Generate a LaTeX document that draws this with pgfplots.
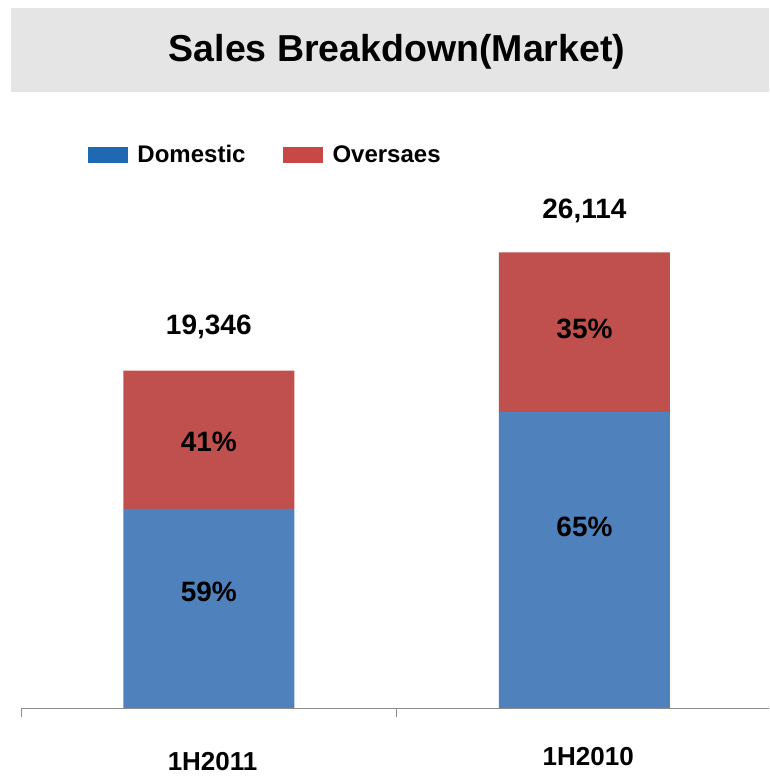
\documentclass[border=0pt]{standalone}
\usepackage{fontspec}
\setmainfont{Liberation Sans}
\usepackage{pgfplots}
\pgfplotsset{compat=1.18}

\definecolor{dombar}{HTML}{4F81BD}
\definecolor{ovsbar}{HTML}{C0504D}
\definecolor{domleg}{HTML}{1F69B3}
\definecolor{ovsleg}{HTML}{C84846}
\definecolor{band}{HTML}{E5E5E5}
\definecolor{axisgray}{HTML}{8C8C8C}

\tikzset{vlab/.style={font=\fontsize{28}{30}\selectfont\bfseries},
         clab/.style={font=\fontsize{26}{28}\selectfont\bfseries, inner sep=0pt}}

\begin{document}
\begin{tikzpicture}
\path (0pt,0pt) rectangle (769pt,776pt);
% title band
\fill[band] (11pt,684pt) rectangle (769pt,768pt);
\node[font=\fontsize{37.5}{40}\selectfont\bfseries] at (397pt,724pt) {Sales Breakdown(Market)};

\begin{axis}[
    at={(21pt,68pt)}, anchor=south west,
    scale only axis, width=748pt, height=610.5pt,
    ymin=0, ymax=35000,
    xmin=-0.5, xmax=1.4913,
    ybar stacked, bar width=171pt,
    axis x line*=bottom, axis y line=none,
    x axis line style={axisgray, line width=0.8pt},
    xtick={-0.5,0.5}, xticklabels={},
    tick align=outside, major tick length=9pt,
    xtick style={axisgray, line width=0.6pt},
    clip=false,
    legend columns=2,
    legend style={draw=none, fill=none, inner sep=0pt,
        at={(axis cs:-0.3235,31709)}, anchor=west,
        font=\fontsize{24}{26}\selectfont\bfseries,
        nodes={inner sep=0pt, anchor=west},
        /tikz/every odd column/.append style={column sep=10pt},
        /tikz/every even column/.append style={column sep=37pt}},
]
\addplot[fill=dombar, draw=none,
    legend image code/.code={\fill[domleg] (0pt,-8pt) rectangle (40pt,8pt);}]
    coordinates {(0,11414) (1,16974)};
\addlegendentry{Domestic}
\addplot[fill=ovsbar, draw=none,
    legend image code/.code={\fill[ovsleg] (0pt,-8pt) rectangle (40pt,8pt);}]
    coordinates {(0,7932) (1,9140)};
\addlegendentry{Oversaes}

\coordinate (tA) at (axis cs:0,21830);
\coordinate (tB) at (axis cs:1,28520);
\coordinate (dA) at (axis cs:0,6650);
\coordinate (oA) at (axis cs:0,15250);
\coordinate (dB) at (axis cs:1,10400);
\coordinate (oB) at (axis cs:1,21730);
\coordinate (cA) at (axis cs:0.01,0);
\coordinate (cB) at (axis cs:1.01,0);
\end{axis}
\node[vlab] at (tA) {19,346};
\node[vlab] at (tB) {26,114};
\node[vlab] at (dA) {59\%};
\node[vlab] at (oA) {41\%};
\node[vlab] at (dB) {65\%};
\node[vlab] at (oB) {35\%};
\node[clab, yshift=-54pt] at (cA) {1H2011};
\node[clab, yshift=-49pt] at (cB) {1H2010};
\end{tikzpicture}
\end{document}
